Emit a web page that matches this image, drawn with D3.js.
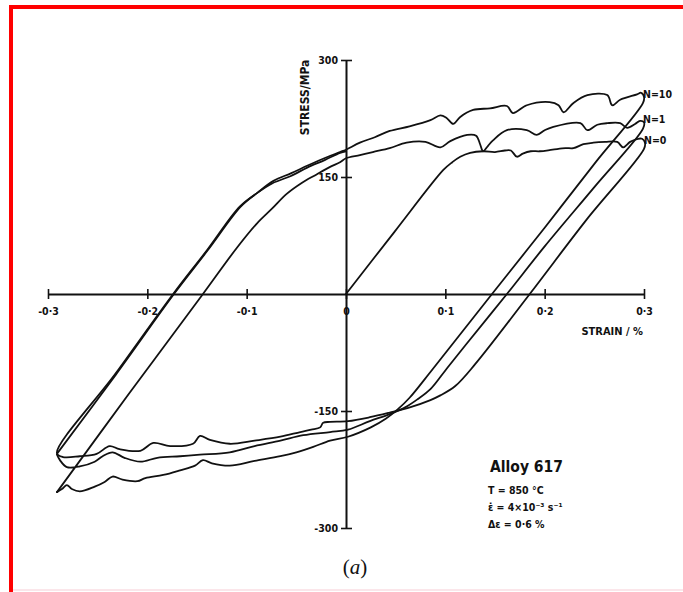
<!DOCTYPE html>
<html>
<head>
<meta charset="utf-8">
<script src="https://cdn.jsdelivr.net/npm/d3@7"></script>
<style>
  html, body { margin: 0; padding: 0; background: #fff; }
  svg { display: block; }
  text { fill: #111; }
</style>
</head>
<body>
<svg id="chart" width="683" height="592"></svg>
<script>
// Axis ticks and their labels
const strainTicks = [-0.3, -0.2, -0.1, 0, 0.1, 0.2, 0.3];
const strainTickLabels = ["-0·3", "-0·2", "-0·1", "0", "0·1", "0·2", "0·3"];
const stressTicks = [300, 150, -150, -300];
const stressTickLabels = ["300", "150", "-150", "-300"];

// Hysteresis branches, [strain %, stress MPa]
// N = 0: monotonic loading from the origin, then the first reversal
const loadN0 = [[0, 0], [0.049, 80], [0.098, 159], [0.107, 169], [0.115, 176], [0.125, 181]];
const topN0 = [[0.138, 183], [0.150, 182], [0.160, 184], [0.166, 184], [0.172, 176], [0.178, 180],
  [0.186, 183], [0.195, 183], [0.208, 185], [0.221, 187], [0.229, 187], [0.239, 192], [0.249, 194],
  [0.261, 195], [0.273, 195], [0.279, 188], [0.286, 195], [0.294, 199], [0.298, 199], [0.301, 194], [0.300, 186]];
const unloadN0 = [[0.242, 95], [0.185, 0], [0.130, -90], [0.110, -118], [0.095, -130], [0.085, -136],
  [0.065, -145], [0.044, -152], [0.024, -158], [0.002, -163]];
const bottomN0 = [[-0.016, -164], [-0.023, -165], [-0.026, -171], [-0.035, -174], [-0.046, -177],
  [-0.066, -183], [-0.092, -188], [-0.117, -192], [-0.137, -187], [-0.147, -182], [-0.154, -192],
  [-0.177, -195], [-0.194, -191], [-0.207, -201], [-0.228, -199], [-0.238, -195], [-0.251, -205],
  [-0.268, -208], [-0.285, -209], [-0.291, -204]];
const reloadN0 = [[-0.232, -102], [-0.174, 0], [-0.140, 56], [-0.107, 112], [-0.090, 129], [-0.074, 142],
  [-0.056, 151], [-0.039, 162], [-0.021, 172], [-0.006, 181], [0, 183]];

// N = 1
const reloadN1 = [[-0.291, -254], [-0.218, -127], [-0.144, 0], [-0.110, 59], [-0.090, 90],
  [-0.074, 110], [-0.060, 128], [-0.045, 142], [-0.030, 153], [-0.016, 163], [-0.006, 169]];
const topN1 = [[0, 174], [0.014, 178], [0.027, 182], [0.044, 187], [0.061, 194], [0.080, 195],
  [0.095, 188], [0.105, 196], [0.122, 204], [0.131, 203], [0.135, 192], [0.138, 183], [0.143, 190],
  [0.148, 197], [0.162, 210], [0.182, 210], [0.192, 204], [0.200, 210], [0.208, 214], [0.236, 219],
  [0.243, 210], [0.253, 217], [0.263, 219], [0.276, 219], [0.283, 213], [0.291, 218], [0.296, 222],
  [0.300, 220], [0.299, 212]];
const unloadN1 = [[0.250, 137], [0.200, 61], [0.162, 0], [0.120, -66], [0.100, -98], [0.085, -122],
  [0.072, -135], [0.060, -145], [0.044, -154], [0.024, -163], [0.002, -174]];
const bottomN1 = [[-0.016, -177], [-0.043, -181], [-0.066, -188], [-0.092, -195], [-0.117, -203],
  [-0.147, -206], [-0.167, -208], [-0.190, -210], [-0.207, -215], [-0.223, -210], [-0.235, -203],
  [-0.245, -208], [-0.253, -215], [-0.268, -221], [-0.281, -222], [-0.288, -213], [-0.291, -206]];

// N = 10
const reloadN10 = [[-0.2905, -204], [-0.2315, -103], [-0.1732, 0], [-0.1392, 56], [-0.106, 112],
  [-0.089, 130], [-0.073, 145], [-0.055, 155], [-0.038, 165], [-0.020, 175], [-0.006, 182]];
const topN10 = [[0, 185], [0.014, 194], [0.029, 201], [0.044, 209], [0.064, 215], [0.085, 223],
  [0.095, 229], [0.101, 226], [0.108, 218], [0.115, 227], [0.128, 236], [0.145, 238], [0.162, 241],
  [0.168, 232], [0.182, 242], [0.205, 246], [0.214, 242], [0.219, 233], [0.229, 245], [0.243, 255],
  [0.263, 255], [0.268, 242], [0.276, 249], [0.293, 256], [0.297, 258], [0.300, 253], [0.299, 245]];
const unloadN10 = [[0.252, 170], [0.200, 85], [0.147, 0], [0.085, -100], [0.064, -133], [0.052, -148],
  [0.040, -160], [0.025, -171], [0.002, -183]];
const bottomN10 = [[-0.016, -188], [-0.033, -196], [-0.050, -203], [-0.066, -208], [-0.092, -214],
  [-0.117, -220], [-0.135, -217], [-0.144, -213], [-0.152, -220], [-0.167, -226], [-0.184, -232],
  [-0.202, -236], [-0.210, -240], [-0.225, -238], [-0.235, -234], [-0.243, -241], [-0.253, -247],
  [-0.268, -253], [-0.276, -250], [-0.281, -245], [-0.286, -250], [-0.291, -254]];

const cycles = [
  { label: "N=10", top: topN10, branches: [reloadN10, topN10, unloadN10, bottomN10] },
  { label: "N=1", top: topN1, branches: [reloadN1, topN1, unloadN1, bottomN1] },
  { label: "N=0", top: topN0, branches: [loadN0, topN0, unloadN0, bottomN0, reloadN0] }
];

const testConditions = ["T = 850 °C", "ε̇ = 4×10⁻³ s⁻¹", "Δε = 0·6 %"];

const svg = d3.select("#chart");
const ink = "#111";
const font = "'DejaVu Sans Condensed', 'DejaVu Sans', sans-serif";

// page frame
svg.append("rect").attr("x", 0).attr("y", 0).attr("width", 683).attr("height", 592).attr("fill", "#fff");
svg.append("rect").attr("x", 9).attr("y", 5).attr("width", 674).attr("height", 4).attr("fill", "#f00");
svg.append("rect").attr("x", 9).attr("y", 5).attr("width", 4).attr("height", 587).attr("fill", "#f00");
svg.append("rect").attr("x", 13).attr("y", 589).attr("width", 670).attr("height", 2).attr("fill", "#fbe6ea");

const x = d3.scaleLinear().domain([-0.3, 0.3]).range([48, 644]);
const y = d3.scaleLinear().domain([-300, 300]).range([528, 60]);

// strain axis through zero stress
const xAxis = d3.axisBottom(x)
  .tickValues(strainTicks)
  .tickFormat((d, i) => strainTickLabels[i])
  .tickSizeInner(5).tickSizeOuter(0).tickPadding(9);
const gx = svg.append("g").attr("transform", `translate(0,${y(0)})`).call(xAxis);
gx.select(".domain").attr("stroke", ink).attr("stroke-width", 2);
gx.selectAll(".tick line").attr("y1", -5).attr("y2", 5).attr("stroke", ink).attr("stroke-width", 1.6);
gx.selectAll(".tick text").attr("font-family", font).attr("font-size", 10.5)
  .attr("font-weight", "bold").attr("fill", ink);

// stress axis through zero strain
const yAxis = d3.axisLeft(y)
  .tickValues(stressTicks)
  .tickFormat((d, i) => stressTickLabels[i])
  .tickSizeInner(5).tickSizeOuter(0).tickPadding(3);
const gy = svg.append("g").attr("transform", `translate(${x(0)},0)`).call(yAxis);
gy.select(".domain").attr("stroke", ink).attr("stroke-width", 2);
gy.selectAll(".tick line").attr("x1", -5).attr("x2", 6).attr("stroke", ink).attr("stroke-width", 1.6);
gy.selectAll(".tick text").attr("font-family", font).attr("font-size", 10.5)
  .attr("font-weight", "bold").attr("fill", ink);

// axis titles
svg.append("text")
  .attr("transform", `translate(${x(0) - 41},${y(252)}) rotate(-90)`)
  .attr("text-anchor", "middle").attr("dominant-baseline", "central")
  .attr("font-family", font).attr("font-size", 12).attr("font-weight", "bold")
  .text("STRESS/MPa");
svg.append("text")
  .attr("x", x(0.3) - 1).attr("y", y(0) + 41)
  .attr("text-anchor", "end")
  .attr("font-family", font).attr("font-size", 11).attr("font-weight", "bold")
  .text("STRAIN / %");

// loops
const line = d3.line()
  .x(d => x(d[0])).y(d => y(d[1]))
  .curve(d3.curveCatmullRom.alpha(0.5));

cycles.forEach(c => {
  svg.append("path")
    .datum(c.branches.flat())
    .attr("d", line)
    .attr("fill", "none")
    .attr("stroke", ink)
    .attr("stroke-width", 1.8)
    .attr("stroke-linejoin", "round")
    .attr("stroke-linecap", "round");

  const tip = c.top.reduce((a, b) => (b[0] > a[0] ? b : a));
  svg.append("text")
    .attr("x", x(tip[0]) - 1).attr("y", y(tip[1]) + 1)
    .attr("font-family", font).attr("font-size", 10.5).attr("font-weight", "bold")
    .text(c.label);
});

// alloy and test conditions
svg.append("text")
  .attr("x", 490).attr("y", 472)
  .attr("font-family", font).attr("font-size", 15.5).attr("font-weight", "bold")
  .text("Alloy 617");
testConditions.forEach((t, i) => {
  svg.append("text")
    .attr("x", 488).attr("y", 494 + i * 17)
    .attr("font-family", font).attr("font-size", 10.5).attr("font-weight", "bold")
    .text(t);
});

// panel caption
const cap = svg.append("text")
  .attr("x", 355).attr("y", 574)
  .attr("text-anchor", "middle")
  .attr("font-family", "'Liberation Serif', 'Times New Roman', serif").attr("font-size", 21);
cap.append("tspan").text("(");
cap.append("tspan").attr("font-style", "italic").text("a");
cap.append("tspan").text(")");
</script>
</body>
</html>
